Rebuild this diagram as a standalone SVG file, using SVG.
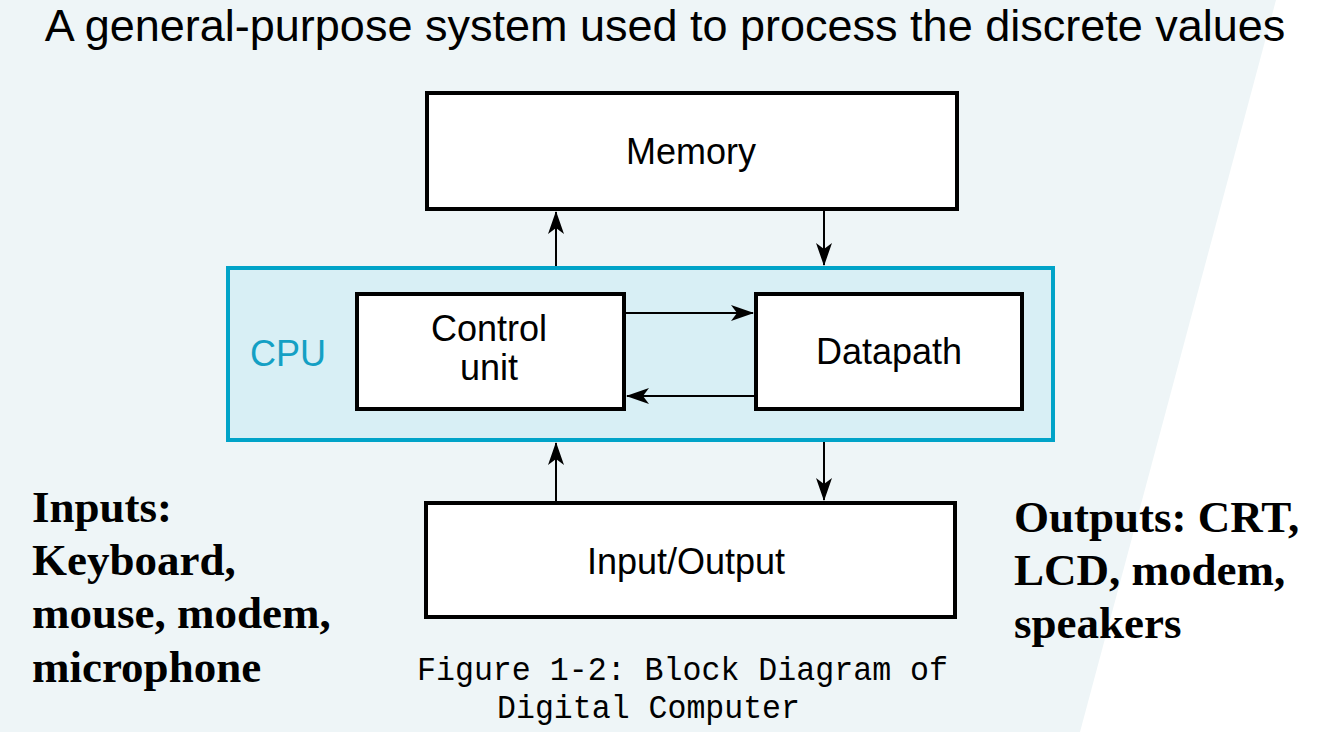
<svg xmlns="http://www.w3.org/2000/svg" width="1330" height="732" viewBox="0 0 1330 732">
<style>
.box{fill:#ffffff;stroke:#000;stroke-width:4}
.lbl{font-family:"Liberation Sans",Arial,sans-serif;font-size:36px;fill:#000;text-anchor:middle}
.side{font-family:"Liberation Serif","Times New Roman",serif;font-size:45px;font-weight:bold;fill:#000}
.cap{font-family:"Liberation Mono","Courier New",monospace;font-size:34px;fill:#000}
.conn{stroke:#000;stroke-width:2;fill:none;marker-end:url(#ah)}
</style>
<defs>
<marker id="ah" markerWidth="24" markerHeight="18" refX="22" refY="8" orient="auto" markerUnits="userSpaceOnUse">
<path d="M0,0 L23,8 L0,16 L6,8 Z" fill="#000"/>
</marker>
</defs>
<rect x="0" y="0" width="1330" height="732" fill="#ffffff"/>
<polygon points="0,0 1276,0 1080,732 0,732" fill="#eef5f7"/>
<text x="665" y="41" font-family="'Liberation Sans',Arial,sans-serif" font-size="45" text-anchor="middle" fill="#000">A general-purpose system used to process the discrete values</text>
<g id="cpu">
<rect x="228" y="268" width="825" height="172" fill="#d8eff5" stroke="#00a3c8" stroke-width="4"/>
<text x="288" y="366" font-family="'Liberation Sans',Arial,sans-serif" font-size="36" fill="#14a0c4" text-anchor="middle">CPU</text>
</g>
<g id="memory">
<rect class="box" x="427" y="93" width="530" height="116"/>
<text class="lbl" x="691" y="164">Memory</text>
</g>
<g id="control">
<rect class="box" x="357" y="294" width="267" height="115"/>
<text class="lbl" x="489" y="341">Control</text>
<text class="lbl" x="489" y="380">unit</text>
</g>
<g id="datapath">
<rect class="box" x="756" y="294" width="266" height="115"/>
<text class="lbl" x="889" y="364">Datapath</text>
</g>
<g id="io">
<rect class="box" x="426" y="503" width="529" height="114"/>
<text class="lbl" x="686" y="574">Input/Output</text>
</g>
<g id="connectors">
<line class="conn" x1="556" y1="266" x2="556" y2="212"/>
<line class="conn" x1="824" y1="211" x2="824" y2="265"/>
<line class="conn" x1="626" y1="313" x2="753" y2="313"/>
<line class="conn" x1="754" y1="396" x2="627" y2="396"/>
<line class="conn" x1="556" y1="501" x2="556" y2="443"/>
<line class="conn" x1="824" y1="442" x2="824" y2="500"/>
</g>
<g id="inputs">
<text class="side" x="32" y="522">Inputs:</text>
<text class="side" x="32" y="575">Keyboard,</text>
<text class="side" x="32" y="628">mouse, modem,</text>
<text class="side" x="32" y="682">microphone</text>
</g>
<g id="outputs">
<text class="side" x="1014" y="532">Outputs: CRT,</text>
<text class="side" x="1014" y="585">LCD, modem,</text>
<text class="side" x="1014" y="638">speakers</text>
</g>
<g id="caption">
<text class="cap" x="417" y="680" textLength="531" lengthAdjust="spacingAndGlyphs">Figure 1-2: Block Diagram of</text>
<text class="cap" x="497" y="718" textLength="303" lengthAdjust="spacingAndGlyphs">Digital Computer</text>
</g>
</svg>
